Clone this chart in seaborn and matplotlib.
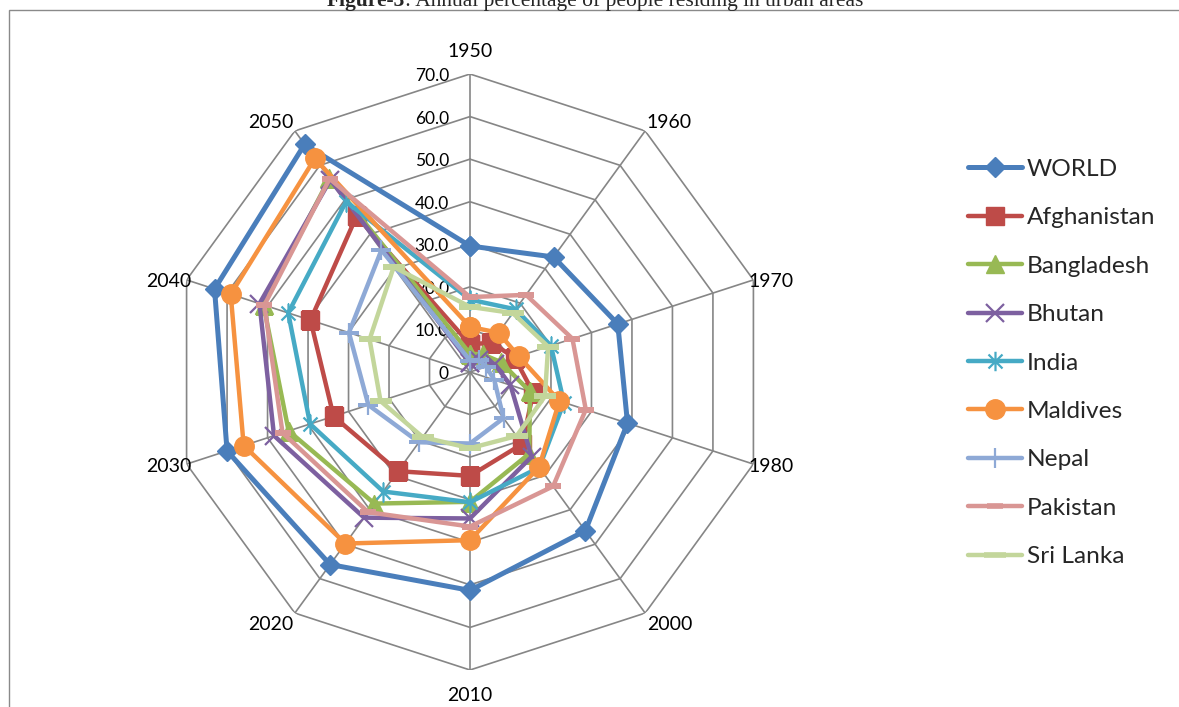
import numpy as np
import pandas as pd
import matplotlib
matplotlib.use("Agg")
import matplotlib.pyplot as plt
import matplotlib.transforms as mtransforms
from matplotlib.path import Path
from matplotlib.patches import Rectangle
import seaborn as sns

# Urban population share (%) by year
years = ["1950", "1960", "1970", "1980", "2000", "2010", "2020", "2030", "2040", "2050"]
world = [29.6, 33.4, 36.5, 38.9, 46.1, 51.3, 55.9, 60.0, 63.1, 66.1]
afghanistan = [6.5, 8.5, 11.0, 15.6, 20.9, 24.4, 28.8, 33.7, 39.4, 45.3]
bangladesh = [4.3, 5.1, 7.6, 14.8, 23.7, 30.5, 38.2, 44.8, 51.0, 56.2]
bhutan = [2.1, 3.6, 6.1, 10.0, 24.6, 34.4, 42.3, 48.4, 52.0, 55.8]
india = [17.0, 18.2, 20.0, 23.2, 27.7, 30.6, 34.7, 39.5, 44.9, 49.5]
maldives = [10.6, 11.4, 12.0, 22.1, 27.6, 39.5, 49.8, 55.9, 59.1, 62.0]
nepal = [2.7, 3.5, 4.0, 6.0, 13.4, 16.8, 20.4, 25.1, 29.9, 35.4]
pakistan = [17.6, 22.4, 25.3, 28.6, 33.2, 36.3, 40.7, 46.3, 50.8, 56.1]
sri_lanka = [15.3, 17.1, 19.3, 18.5, 18.6, 17.9, 18.9, 22.1, 24.8, 30.5]

r_ticks = [0, 10, 20, 30, 40, 50, 60, 70]
r_tick_labels = ["0", "10.0", "20.0", "30.0", "40.0", "50.0", "60.0", "70.0"]

sns.set_theme(style="white")
plt.rcParams["font.family"] = ["Lato", "DejaVu Sans"]

W, H = 1179, 707
fig = plt.figure(figsize=(W / 100, H / 100), dpi=100)
fig.patch.set_facecolor("white")

# Outer chart frame
fig.add_artist(Rectangle((9 / W, -0.05), 1.2, (1 - 10 / H) + 0.05,
                         transform=fig.transFigure, fill=False,
                         ec="#8a8a8a", lw=1.0))

# Caption along the top edge
cap_y = 1 - 6 / H
fig.text(405 / W, cap_y, "Figure-3", ha="right", va="baseline",
         fontfamily="Liberation Serif", fontweight="bold", fontsize=15.5)
fig.text(405 / W, cap_y, ": Annual percentage of people residing in urban areas",
         ha="left", va="baseline", fontfamily="Liberation Serif", fontsize=15.5)

# Radar axes
cx, cy, R = 470, 372, 298
ax = fig.add_axes([(cx - R) / W, (H - cy - R) / H, 2 * R / W, 2 * R / H],
                  projection="polar")
ax.set_theta_zero_location("N")
ax.set_theta_direction(-1)
ax.set_facecolor("none")

theta = np.linspace(0, 2 * np.pi, len(years), endpoint=False)
theta_closed = np.append(theta, 2 * np.pi)

grid_c = "#868686"
for r in r_ticks[1:]:
    ax.plot(theta_closed, [r] * len(theta_closed), color=grid_c, lw=1.2, zorder=1)
for t in theta:
    ax.plot([t, t], [0, r_ticks[-1]], color=grid_c, lw=1.2, zorder=1)

asterisk = Path([(0, -1), (0, 1), (-0.72, -0.72), (0.72, 0.72), (-0.72, 0.72), (0.72, -0.72)],
                [Path.MOVETO, Path.LINETO] * 3)

series = [
    ("WORLD", world, "#4A7EBB", "D", 10, 3.6, 1.0),
    ("Afghanistan", afghanistan, "#BE4B48", "s", 12.5, 3.2, 1.0),
    ("Bangladesh", bangladesh, "#98B954", "^", 12.5, 3.2, 1.0),
    ("Bhutan", bhutan, "#7D60A0", "x", 13, 3.2, 1.6),
    ("India", india, "#46AAC5", asterisk, 14, 3.2, 1.6),
    ("Maldives", maldives, "#F69240", "o", 14, 3.2, 1.0),
    ("Nepal", nepal, "#8EA9D6", "+", 14, 3.2, 1.6),
    ("Pakistan", pakistan, "#D99694", "_", 11, 3.2, 4.0),
    ("Sri Lanka", sri_lanka, "#C3D69B", "_", 16, 3.2, 4.0),
]

for i, (name, vals, color, marker, ms, lw, mew) in enumerate(series):
    df = pd.DataFrame({"angle": theta_closed, "pct": list(vals) + [vals[0]]})
    sns.lineplot(data=df, x="angle", y="pct", ax=ax, sort=False, estimator=None,
                 color=color, lw=lw, marker=marker, ms=ms, mec=color, mfc=color,
                 mew=mew, label=name, legend=False, zorder=3 + i)

ax.set_xlabel("")
ax.set_ylabel("")
if ax.get_legend() is not None:
    ax.get_legend().remove()

ax.set_xlim(0, 2 * np.pi)
ax.set_ylim(0, r_ticks[-1])
ax.grid(False)
ax.spines["polar"].set_visible(False)
ax.set_yticks([])
ax.set_xticks(theta)
ax.set_xticklabels([])
ax.tick_params(axis="x", length=0)

# Category labels just outside the outer ring, anchored by their nearest corner/edge
for t, lab in zip(theta, years):
    s, c = np.sin(t), np.cos(t)
    if abs(s) < 0.1:
        ha, va = "center", ("baseline" if c > 0 else "top")
        dx, dy = 0, 17 * c
    elif abs(c) > 0.5:
        ha = "left" if s > 0 else "right"
        va = "baseline" if c > 0 else "top"
        dx, dy = 3 * s, 3 * c
    else:
        ha = "left" if s > 0 else "right"
        va = "center"
        dx, dy = -5 * np.sign(s), -2
    shift = mtransforms.ScaledTranslation(dx / 100, dy / 100, fig.dpi_scale_trans)
    ax.text(t, r_ticks[-1], lab, transform=ax.transData + shift, ha=ha, va=va,
            fontsize=14, color="black", clip_on=False)

# Radial value labels to the left of the top spoke
offset = mtransforms.ScaledTranslation(-0.21, -0.02, fig.dpi_scale_trans)
for v, lab in zip(r_ticks, r_tick_labels):
    ax.text(0, v, lab, transform=ax.transData + offset, ha="right", va="center",
            fontsize=12.5, color="black", clip_on=False)

handles = [l for l in ax.lines if not l.get_label().startswith("_")]
fig.legend(handles, [h.get_label() for h in handles], loc="center left",
           bbox_to_anchor=(968 / W, 1 - 363 / H), frameon=False,
           fontsize=17.6, handlelength=2.2, handletextpad=0.2,
           labelspacing=1.117, borderpad=0, borderaxespad=0, numpoints=1)

fig.savefig("out.png", dpi=100, facecolor="white")
